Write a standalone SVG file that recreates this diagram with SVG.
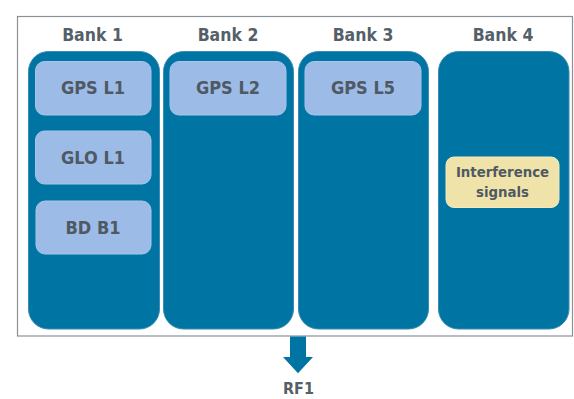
<svg xmlns="http://www.w3.org/2000/svg" width="574" height="399" viewBox="0 0 574 399">
<style>
.bank{fill:#0074a2;stroke:#3a8cb5;stroke-width:1}
.band{fill:#9dbbe7;stroke:#a9c4ec;stroke-width:1}
.intf{fill:#efe3aa;stroke:#f3e9bd;stroke-width:1}
.t{font-family:"DejaVu Sans Condensed","DejaVu Sans","Liberation Sans",sans-serif;font-stretch:condensed;font-weight:bold;text-anchor:middle}
.h{font-size:17.5px;fill:#555f68}
.b{font-size:18px;fill:#4f5963}
.s{font-size:14.8px;fill:#4f5963}
</style>
<rect x="0" y="0" width="574" height="399" fill="#ffffff"/>
<rect id="frame" x="17.5" y="16.5" width="555" height="319.5" fill="#ffffff" stroke="#8a9096" stroke-width="1.2"/>
<g id="bank1">
<rect class="bank" x="28.5" y="51.5" width="131" height="277.5" rx="20"/>
<text class="t h" x="92.5" y="40.5">Bank 1</text>
</g>
<g id="bank2">
<rect class="bank" x="163.5" y="51.5" width="130" height="277.5" rx="20"/>
<text class="t h" x="228" y="40.5">Bank 2</text>
</g>
<g id="bank3">
<rect class="bank" x="298.5" y="51.5" width="130" height="277.5" rx="20"/>
<text class="t h" x="363" y="40.5">Bank 3</text>
</g>
<g id="bank4">
<rect class="bank" x="438.5" y="51.5" width="130.5" height="277.5" rx="20" stroke="none"/>
<text class="t h" x="503" y="40.5">Bank 4</text>
</g>
<g id="gpsl1"><rect class="band" x="35.5" y="61.5" width="115.5" height="53.5" rx="9"/><text class="t b" x="93" y="94">GPS L1</text></g>
<g id="glol1"><rect class="band" x="35.5" y="131" width="115.5" height="53" rx="9"/><text class="t b" x="93" y="163.5">GLO L1</text></g>
<g id="bdb1"><rect class="band" x="36" y="201" width="115" height="53" rx="9"/><text class="t b" x="93" y="234">BD B1</text></g>
<g id="gpsl2"><rect class="band" x="170" y="61.5" width="116" height="53.5" rx="9"/><text class="t b" x="228" y="94">GPS L2</text></g>
<g id="gpsl5"><rect class="band" x="305" y="61.5" width="116" height="53.5" rx="9"/><text class="t b" x="363" y="94">GPS L5</text></g>
<g id="interference"><rect class="intf" x="446" y="157" width="113" height="50.5" rx="8"/><text class="t s" x="502.5" y="177">Interference</text><text class="t s" x="502.5" y="196.5">signals</text></g>
<g id="connectors">
<polygon points="290,336.5 306,336.5 306,357 313,357 298,373.3 283,357 290,357" fill="#0074a2"/>
</g>
<g id="rf1"><text class="t h" x="298.5" y="394" style="font-size:16px">RF1</text></g>
</svg>
